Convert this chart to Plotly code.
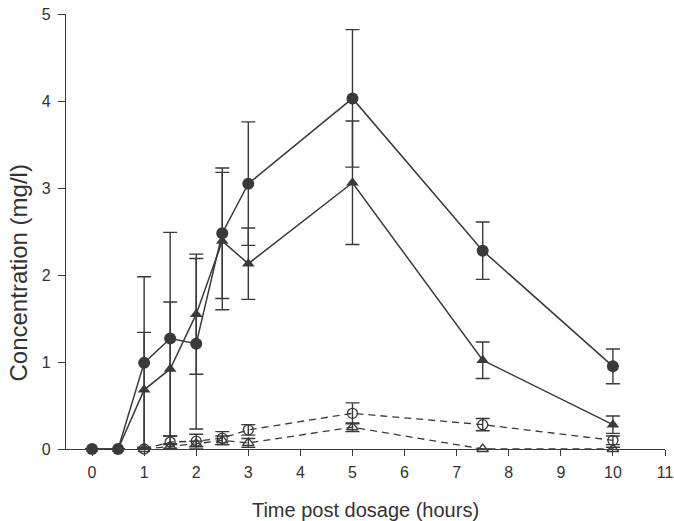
import plotly.graph_objects as go

# Time points (hours)
t_full = [0, 0.5, 1, 1.5, 2, 2.5, 3, 5, 7.5, 10]
t_open = [1, 1.5, 2, 2.5, 3, 5, 7.5, 10]

# Filled circles (solid line)
fc_y = [0, 0, 0.99, 1.27, 1.21, 2.48, 3.05, 4.03, 2.28, 0.95]
fc_err = [0, 0, 0.99, 1.22, 0.98, 0.75, 0.71, 0.79, 0.33, 0.20]

# Filled triangles (solid line)
ft_y = [0, 0, 0.68, 0.92, 1.55, 2.39, 2.13, 3.06, 1.02, 0.28]
ft_err = [0, 0, 0.66, 0.77, 0.69, 0.79, 0.41, 0.71, 0.21, 0.10]

# Open circles (dashed line)
oc_y = [0, 0.08, 0.09, 0.125, 0.22, 0.41, 0.28, 0.10]
oc_err = [0, 0.07, 0.08, 0.075, 0.06, 0.12, 0.07, 0.05]

# Open triangles (dashed line)
ot_y = [0, 0.03, 0.06, 0.10, 0.07, 0.25, 0, 0]
ot_err = [0, 0.03, 0.03, 0.05, 0.05, 0.05, 0, 0.02]

x_ticks = list(range(0, 12))
y_ticks = [0, 1, 2, 3, 4, 5]

x_title = "Time post dosage (hours)"
y_title = "Concentration (mg/l)"

C = "#3a3a3a"

def err(arr):
    return dict(type="data", array=arr, visible=True, color=C, thickness=1.4, width=7)

fig = go.Figure()
fig.add_trace(go.Scatter(
    x=t_open, y=oc_y, error_y=err(oc_err), mode="lines+markers",
    line=dict(color=C, width=1.3, dash="7px,5px"),
    marker=dict(symbol="circle-open", size=10, color=C, line=dict(width=1.3, color=C)),
    showlegend=False, cliponaxis=False))
fig.add_trace(go.Scatter(
    x=t_open, y=ot_y, error_y=err(ot_err), mode="lines+markers",
    line=dict(color=C, width=1.3, dash="7px,5px"),
    marker=dict(symbol="triangle-up-open", size=10, color=C, line=dict(width=1.3, color=C)),
    showlegend=False, cliponaxis=False))
fig.add_trace(go.Scatter(
    x=t_full, y=ft_y, error_y=err(ft_err), mode="lines+markers",
    line=dict(color=C, width=1.5),
    marker=dict(symbol="triangle-up", size=11, color=C),
    showlegend=False, cliponaxis=False))
fig.add_trace(go.Scatter(
    x=t_full, y=fc_y, error_y=err(fc_err), mode="lines+markers",
    line=dict(color=C, width=1.5),
    marker=dict(symbol="circle", size=12, color=C),
    showlegend=False, cliponaxis=False))

font = dict(family="Liberation Sans, Arial, sans-serif", color="#333333")

fig.update_layout(
    width=674, height=521,
    margin=dict(l=66, r=9, t=14, b=72, autoexpand=False),
    paper_bgcolor="white", plot_bgcolor="white",
    font=font,
    xaxis=dict(
        range=[-0.5, 11], tickmode="array", tickvals=x_ticks,
        ticktext=[str(v) for v in x_ticks],
        showgrid=False, zeroline=False, showline=True, linecolor=C, linewidth=1.3,
        ticks="outside", ticklen=6, tickcolor=C, tickwidth=1.3,
        tickfont=dict(size=16, **font), ticklabelstandoff=3,
        ticklabeloverflow="allow",
        title=dict(text=x_title, font=dict(size=20, **font), standoff=22),
        automargin=False,
    ),
    yaxis=dict(
        range=[0, 5], tickmode="array", tickvals=y_ticks,
        ticktext=[str(v) for v in y_ticks],
        showgrid=False, zeroline=False, showline=True, linecolor=C, linewidth=1.3,
        ticks="outside", ticklen=7, tickcolor=C, tickwidth=1.3,
        tickfont=dict(size=16, **font), ticklabelstandoff=4,
        ticklabeloverflow="allow",
        automargin=False,
    ),
    annotations=[dict(
        text=y_title, textangle=-90, showarrow=False,
        xref="paper", yref="paper", x=-0.079, y=0.405,
        xanchor="center", yanchor="middle",
        font=dict(size=24, **font),
    )],
)

fig.write_html("out.html", post_script="document.body.style.margin='0px';",
               config={"displayModeBar": False})
